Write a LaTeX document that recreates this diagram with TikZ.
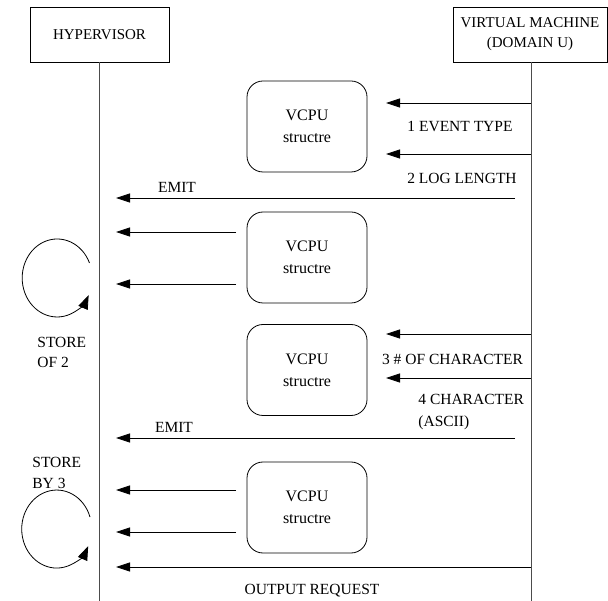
\documentclass[tikz,border=0pt]{standalone}
\usepackage{fontspec}
\setmainfont{Liberation Serif}
\usetikzlibrary{arrows.meta}
\begin{document}
\begin{tikzpicture}[x=1pt,y=-1pt,line width=0.8pt,
  every node/.style={font=\fontsize{15.5}{20}\selectfont, inner sep=0pt},
  hdr/.style={draw, rectangle, minimum height=55pt, align=center, font=\fontsize{15}{20}\selectfont},
  vcpubox/.style={draw, rounded corners=16pt, minimum width=120pt, minimum height=91pt, align=center,
    font=\fontsize{16}{22}\selectfont},
  lifeline/.style={draw=black!70, line width=1pt},
  msg/.style={-{Triangle[length=14pt,width=9pt]}},
  loopar/.style={-{Triangle[length=14pt,width=10pt]}}]
\useasboundingbox (0,0) rectangle (608,601);

% headers
\node[hdr, minimum width=139pt] (hyp) at (99.5,34.5) {HYPERVISOR};
\node[hdr, minimum width=154pt] (vm) at (530,34.5) {VIRTUAL MACHINE\\(DOMAIN U)};

% lifelines
\coordinate (hypbot) at (99.5,601);
\coordinate (vmtop) at (531,62);
\coordinate (vmbot) at (531,601);
\draw[lifeline] (hyp.south) -- (hypbot);
\draw[lifeline] (vmtop) -- (vmbot);

% VCPU boxes
\node[vcpubox] (b1) at (307,126.5) {VCPU\\structre};
\node[vcpubox] (b2) at (307,257.5) {VCPU\\structre};
\node[vcpubox] (b3) at (307,370) {VCPU\\structre};
\node[vcpubox] (b4) at (307,507.5) {VCPU\\structre};

% messages from VM to box 1
\coordinate (s1) at (531,103); \coordinate (t1) at (386,103);
\coordinate (s2) at (531,154); \coordinate (t2) at (386,154);
\draw[msg] (s1) -- (t1);
\draw[msg] (s2) -- (t2);
\node (l1) at (460,127) {1 EVENT TYPE};
\node (l2) at (462,178) {2 LOG LENGTH};

% EMIT 1
\coordinate (e1s) at (515,198); \coordinate (e1t) at (116,198);
\draw[msg] (e1s) -- (e1t);
\node (em1) at (177,187) {EMIT};

% box 2 to hypervisor
\coordinate (s3) at (236,232); \coordinate (t3) at (116,232);
\coordinate (s4) at (236,284); \coordinate (t4) at (116,284);
\draw[msg] (s3) -- (t3);
\draw[msg] (s4) -- (t4);

% loop 1
\draw[loopar] (89.5,263) arc[start angle=-22.6, end angle=-334, x radius=35, y radius=39];
\node[anchor=west, align=left] (st1) at (37,352) {STORE\\OF 2};

% messages from VM to box 3
\coordinate (s5) at (531,334); \coordinate (t5) at (386,334);
\coordinate (s6) at (531,378); \coordinate (t6) at (386,378);
\draw[msg] (s5) -- (t5);
\draw[msg] (s6) -- (t6);
\node (l3) at (452.5,359) {3 \# OF CHARACTER};
\node[anchor=west, align=left, font=\fontsize{15.5}{22}\selectfont] (l4) at (418,412) {4 CHARACTER\\(ASCII)};

% EMIT 2
\coordinate (e2s) at (515,438); \coordinate (e2t) at (116,438);
\draw[msg] (e2s) -- (e2t);
\node (em2) at (174,427) {EMIT};

% STORE BY 3
\node[anchor=west, align=left, font=\fontsize{15.5}{21}\selectfont] (st2) at (32,472.5) {STORE\\BY 3};

% box 4 to hypervisor
\coordinate (s7) at (236,490); \coordinate (t7) at (116,490);
\coordinate (s8) at (236,532); \coordinate (t8) at (116,532);
\draw[msg] (s7) -- (t7);
\draw[msg] (s8) -- (t8);

% loop 2
\draw[loopar] (90,517) arc[start angle=-18, end angle=-334, x radius=35, y radius=39];

% output request
\coordinate (os) at (531,567); \coordinate (ot) at (116,567);
\draw[msg] (os) -- (ot);
\node (out) at (312,591) {OUTPUT REQUEST};
\end{tikzpicture}
\end{document}
